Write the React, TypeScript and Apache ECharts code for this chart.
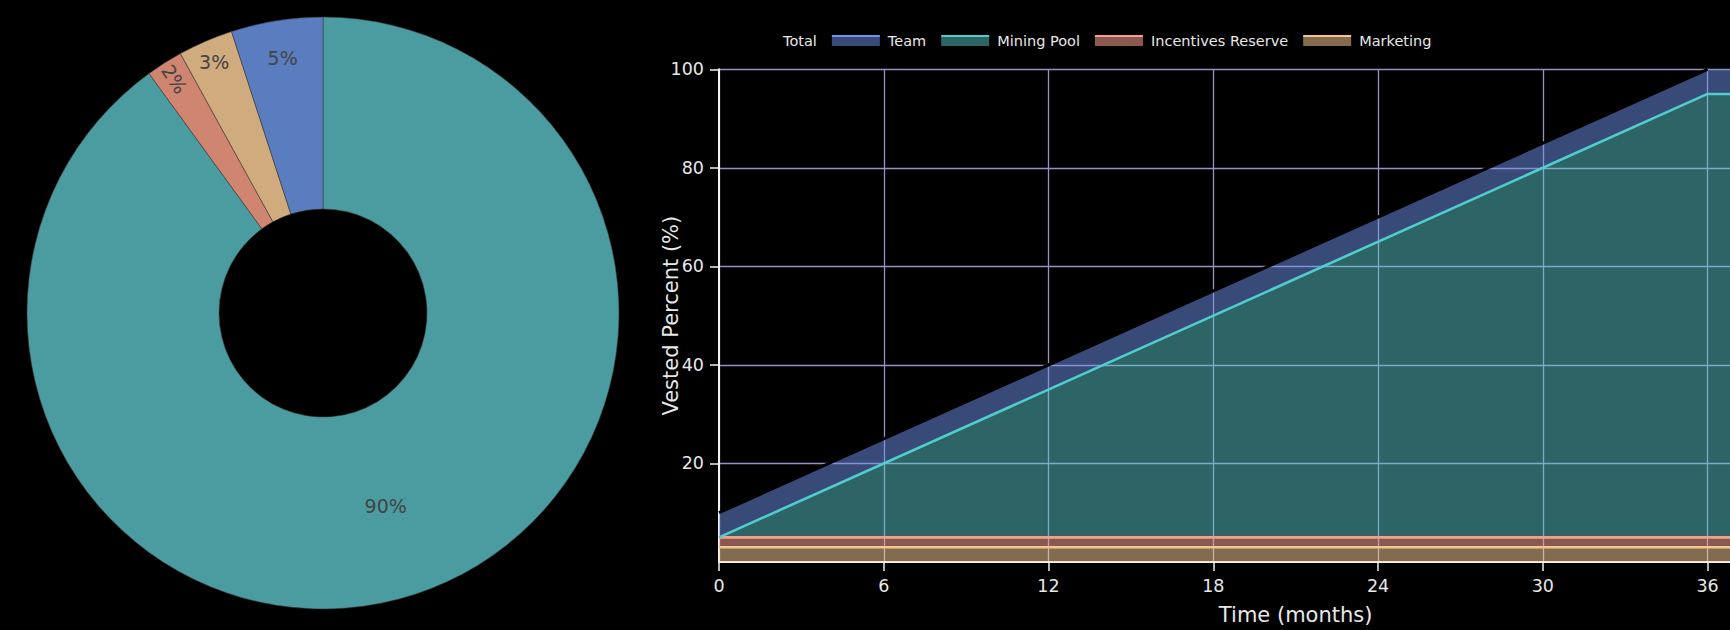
import React, { useEffect, useRef } from "react";
import * as echarts from "echarts";

// ---- data ----
const allocationNames = ["Team", "Mining Pool", "Incentives Reserve", "Marketing"];
const allocationValues = [5, 90, 2, 3];
// pie slice order, clockwise from 12 o'clock
const pieOrder = ["Mining Pool", "Incentives Reserve", "Marketing", "Team"];

const months = [0, 36, 42];
const marketingVested = [3, 3, 3];
const incentivesVested = [2, 2, 2];
const miningPoolVested = [0, 90, 90];
const teamVested = [5, 5, 5];
const totalMonths = [0, 36];
const totalVested = [10, 100];

const xMin = 0;
const xMax = 42;
const xInterval = 6;
const yMin = 0;
const yMax = 100;
const yInterval = 20;
const yTickValues = [20, 40, 60, 80, 100];

const legendNames = ["Total", "Team", "Mining Pool", "Incentives Reserve", "Marketing"];

// ---- styles ----
const FONT = "DejaVu Sans";
const pieColors: Record<string, string> = {
  Team: "#5a7dbf",
  "Mining Pool": "#4a9ca0",
  "Incentives Reserve": "#cf8570",
  Marketing: "#d0ab7d",
};
const lineColors: Record<string, string> = {
  Team: "#7094ee",
  "Mining Pool": "#52cccc",
  "Incentives Reserve": "#f4a08c",
  Marketing: "#f2c68e",
};
const fillColors: Record<string, string> = {
  Team: "rgba(112,148,238,0.5)",
  "Mining Pool": "rgba(90,200,204,0.5)",
  "Incentives Reserve": "rgba(250,162,145,0.55)",
  Marketing: "rgba(250,208,154,0.52)",
};
const legendFill: Record<string, string> = {
  Team: "#384a77",
  "Mining Pool": "#2d6465",
  "Incentives Reserve": "#8a5a50",
  Marketing: "#836b50",
};
// label placement for small slices (radius of label centre, rotation)
const smallLabelStyle: Record<string, { r: number; rotate: number | string }> = {
  Team: { r: 255, rotate: 0 },
  Marketing: { r: 271, rotate: 0 },
  "Incentives Reserve": { r: 274, rotate: "radial" },
};

const PIE_CENTER = [323, 313];
const PIE_R0 = 104;
const PIE_R = 296;

function valueOf(name: string) {
  return allocationValues[allocationNames.indexOf(name)];
}

function legendGradient(name: string) {
  return {
    type: "linear",
    x: 0,
    y: 0,
    x2: 0,
    y2: 1,
    colorStops: [
      { offset: 0, color: lineColors[name] },
      { offset: 0.2, color: lineColors[name] },
      { offset: 0.2, color: legendFill[name] },
      { offset: 1, color: legendFill[name] },
    ],
  };
}

export default function App() {
  const ref = useRef<HTMLDivElement>(null);

  useEffect(() => {
    document.body.style.margin = "0";
    document.body.style.background = "#000";
    const chart = echarts.init(ref.current!, null, { renderer: "svg" });

    const mainPieData = pieOrder.map((name) => ({
      name,
      value: valueOf(name),
      itemStyle: { color: pieColors[name] },
      label: { show: !(name in smallLabelStyle) },
    }));

    const labelPies = Object.keys(smallLabelStyle).map((target) => ({
      type: "pie",
      silent: true,
      center: PIE_CENTER,
      radius: [smallLabelStyle[target].r - 1, smallLabelStyle[target].r + 1],
      startAngle: 90,
      clockwise: true,
      z: 5,
      emphasis: { disabled: true },
      labelLine: { show: false },
      itemStyle: { color: "rgba(0,0,0,0)", borderWidth: 0 },
      label: {
        position: "inside",
        formatter: "{d}%",
        color: "#444",
        fontFamily: FONT,
        fontSize: 19,
      },
      data: pieOrder.map((name) => ({
        name,
        value: valueOf(name),
        label: {
          show: name === target,
          rotate: smallLabelStyle[target].rotate,
        },
      })),
    }));

    const stackNames = ["Marketing", "Incentives Reserve", "Mining Pool", "Team"];
    const stackValues: Record<string, number[]> = {
      Marketing: marketingVested,
      "Incentives Reserve": incentivesVested,
      "Mining Pool": miningPoolVested,
      Team: teamVested,
    };

    // data rows are [value, month] so that the stacked dimension is the value
    const rows = (name: string) => months.map((m, i) => [stackValues[name][i], m]);

    const areaSeries = stackNames.map((name) => ({
      type: "line",
      name,
      stack: "area",
      symbol: "none",
      silent: true,
      z: 2,
      encode: { x: 1, y: 0 },
      lineStyle: { width: 0 },
      areaStyle: { color: fillColors[name], opacity: 1 },
      data: rows(name),
    }));

    const lineSeries = ["Marketing", "Incentives Reserve", "Mining Pool"].map((name) => ({
      type: "line",
      name,
      stack: "lines",
      symbol: "none",
      silent: true,
      z: 3,
      encode: { x: 1, y: 0 },
      lineStyle: { width: 2.6, color: lineColors[name] },
      data: rows(name),
    }));

    const axisColor = "#f2f2f2";
    const labelColor = "#e8e8e8";
    const gridColor = "#9a90c4";

    chart.setOption({
      animation: false,
      backgroundColor: "#000",
      legend: {
        left: 722,
        top: 28,
        itemWidth: 48,
        itemHeight: 11,
        itemGap: 15,
        selectedMode: false,
        textStyle: { color: labelColor, fontSize: 14.5, fontFamily: FONT, padding: [0, 0, 0, 3] },
        data: legendNames.map((name) =>
          name === "Total"
            ? { name, icon: "rect", itemStyle: { color: "rgba(0,0,0,0)", borderWidth: 0 } }
            : { name, icon: "rect", itemStyle: { color: legendGradient(name), borderWidth: 0 } }
        ),
      },
      grid: {
        left: 719,
        top: 69.3,
        right: -142.3,
        bottom: 68,
        containLabel: false,
        outerBoundsMode: "none",
      },
      xAxis: {
        type: "value",
        min: xMin,
        max: xMax,
        interval: xInterval,
        name: "Time (months)",
        nameLocation: "middle",
        nameGap: 42,
        nameMoveOverlap: false,
        nameTextStyle: { color: labelColor, fontSize: 21, fontFamily: FONT },
        axisLine: { show: true, lineStyle: { color: axisColor, width: 2 } },
        axisTick: { show: true, length: 9, lineStyle: { color: axisColor, width: 1.5 } },
        axisLabel: { color: labelColor, fontSize: 17.5, fontFamily: FONT, margin: 15 },
        splitLine: { show: true, lineStyle: { color: gridColor, width: 1.3 } },
      },
      yAxis: {
        type: "value",
        min: yMin,
        max: yMax,
        interval: yInterval,
        name: "Vested Percent (%)",
        nameLocation: "middle",
        nameGap: 38,
        nameRotate: 90,
        nameMoveOverlap: false,
        nameTextStyle: { color: labelColor, fontSize: 21, fontFamily: FONT },
        axisLine: { show: true, onZero: false, lineStyle: { color: axisColor, width: 2 } },
        axisTick: {
          show: true,
          length: 9,
          customValues: yTickValues,
          lineStyle: { color: axisColor, width: 1.5 },
        },
        axisLabel: {
          color: labelColor,
          fontSize: 17.5,
          fontFamily: FONT,
          margin: 15,
          customValues: yTickValues,
          formatter: (v: number) => (v === 0 ? "" : String(v)),
        },
        splitLine: { show: true, lineStyle: { color: gridColor, width: 1.3 } },
      },
      series: [
        {
          type: "pie",
          name: "Allocation",
          center: PIE_CENTER,
          radius: [PIE_R0, PIE_R],
          startAngle: 90,
          clockwise: true,
          silent: true,
          emphasis: { disabled: true },
          labelLine: { show: false },
          itemStyle: { borderColor: "rgba(60,60,60,0.7)", borderWidth: 0.8 },
          label: {
            position: "inside",
            formatter: "{d}%",
            color: "#444",
            fontFamily: FONT,
            fontSize: 19,
          },
          data: mainPieData,
        },
        ...labelPies,
        ...areaSeries,
        ...lineSeries,
        {
          type: "line",
          name: "Total",
          symbol: "none",
          silent: true,
          z: 4,
          lineStyle: { width: 3, color: "#000" },
          data: totalMonths.map((m, i) => [m, totalVested[i]]),
        },
      ],
    });

    return () => chart.dispose();
  }, []);

  return (
    <div
      ref={ref}
      style={{ position: "fixed", left: 0, top: 0, width: 1730, height: 630, background: "#000" }}
    />
  );
}
